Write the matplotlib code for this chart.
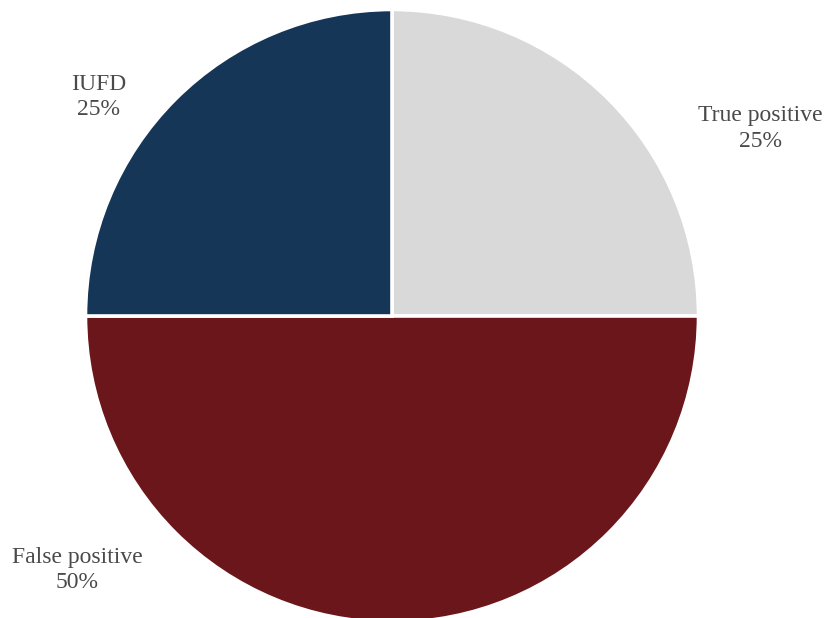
import matplotlib.pyplot as plt

plt.rcParams["font.family"] = ["Liberation Serif", "DejaVu Serif"]

categories = ["True positive", "False positive", "IUFD"]
values = [25, 50, 25]
colors = ["#d9d9d9", "#6b161b", "#163657"]

# label anchor points, in units of pie radius
label_xy = [(1.207, 0.616), (-1.033, -0.833), (-0.961, 0.718)]

fig = plt.figure(figsize=(8.28, 6.18), dpi=100)
ax = fig.add_axes([0, 0, 1, 1])

ax.pie(values, colors=colors, startangle=90, counterclock=False,
       radius=1.005, center=(0, 0),
       wedgeprops=dict(edgecolor="white", linewidth=2.6))

total = sum(values)
for name, v, (x, y) in zip(categories, values, label_xy):
    ax.text(x, y, f"{name}\n{v / total * 100:.0f}%", ha="center", va="center",
            fontsize=17, color="#4a4a4a", linespacing=1.3)

ax.set_xlim(-392 / 305, (828 - 392) / 305)
ax.set_ylim(-302 / 305, 316 / 305)
ax.set_aspect("auto")
ax.axis("off")

fig.savefig("out.png", dpi=100)
